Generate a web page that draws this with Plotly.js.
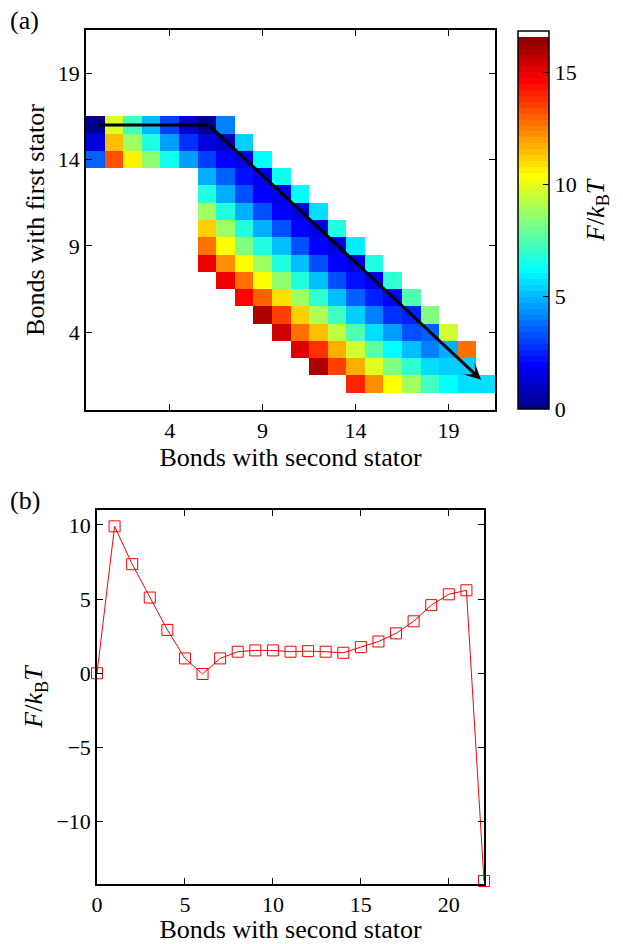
<!DOCTYPE html>
<html>
<head>
<meta charset="utf-8">
<script src="https://cdn.plot.ly/plotly-3.0.1.min.js"></script>
<style>html,body{margin:0;padding:0;background:#fff;}#chart{width:623px;height:944px;}</style>
</head>
<body>
<div id="chart"></div>
<script>
// ---------- DATA ----------
// (a) free energy map: for each row (bonds with first stator) the first column index and the cell values
const firstBondsRows = [16, 15, 14, 13, 12, 11, 10, 9, 8, 7, 6, 5, 4, 3, 2, 1];
const rowStartSecond = [0, 0, 0, 6, 6, 6, 6, 6, 6, 7, 8, 9, 10, 11, 12, 14];
const row16 = [0.05, 9.9, 7.3, 5.1, 2.95, 1.1, 0.05, 4.1];
const row15 = [1.45, 11.44, 8.81, 6.71, 4.6, 2.76, 1.45, 1.0, 5.39];
const row14 = [3.55, 13.28, 10.65, 8.55, 6.44, 4.6, 3.03, 1.97, 1.45, 6.18];
const row13 = [4.87, 3.55, 2.24, 1.6, 6.44];
const row12 = [6.71, 4.87, 3.29, 1.97, 1.6, 6.3];
const row11 = [8.81, 6.71, 4.87, 3.29, 1.97, 1.45, 5.65];
const row10 = [11.18, 8.81, 6.71, 4.87, 3.29, 1.97, 1.49, 6.71];
const row9  = [12.76, 10.39, 8.28, 6.71, 5.13, 3.4, 1.97, 1.45, 5.92];
const row8  = [14.86, 12.1, 10.5, 8.7, 6.71, 5.13, 3.4, 1.97, 1.38, 6.6];
const row7  = [14.86, 12.76, 10.39, 8.55, 6.71, 5.13, 3.29, 2.24, 1.76, 6.97];
const row6  = [14.6, 13.02, 10.91, 8.81, 6.97, 5.13, 3.55, 2.5, 2.05, 7.5];
const row5  = [15.91, 13.54, 11.18, 9.07, 7.23, 5.39, 4.08, 2.76, 2.6, 8.28];
const row4  = [15.39, 12.76, 11.44, 9.34, 7.5, 5.65, 4.6, 3.29, 3.5, 9.6];
const row3  = [15.12, 13.81, 11.7, 9.6, 7.76, 6.18, 5.13, 4.08, 4.8, 12.76];
const row2  = [15.91, 13.54, 11.7, 9.86, 8.28, 6.97, 5.65, 5.39, 5.5];
const row1  = [14.07, 12.23, 10.39, 8.81, 7.23, 6.18, 5.65, 5.6];
const rowValues = [row16, row15, row14, row13, row12, row11, row10, row9, row8, row7, row6, row5, row4, row3, row2, row1];

// path drawn on the map (arrow)
const pathSecond = [0.17, 6.1, 20.75];
const pathFirst  = [16, 16, 1.25];

// (b) free energy profile along the path
const secondBonds = [0,1,2,3,4,5,6,7,8,9,10,11,12,13,14,15,16,17,18,19,20,21,22];
const freeEnergy  = [0, 9.9, 7.35, 5.1, 2.92, 1.0, -0.05, 1.0, 1.45, 1.54, 1.54, 1.45, 1.49, 1.45, 1.38, 1.76, 2.14, 2.69, 3.5, 4.59, 5.32, 5.59, -14.0];

const mapTicks = [4, 9, 14, 19];
const cbTicks = [0, 5, 10, 15];
const profXTicks = [0, 5, 10, 15, 20];
const profYTicks = [-10, -5, 0, 5, 10];
const cMax = 16.83;

// ---------- BUILD ----------
const N = 22;
const axisIdx = Array.from({length: N}, (_, i) => i);
const z = axisIdx.map(() => axisIdx.map(() => null));
firstBondsRows.forEach((yv, r) => {
  rowValues[r].forEach((v, k) => { z[yv][rowStartSecond[r] + k] = v; });
});

// stepped jet(64) colormap, last entry white
function jet64() {
  const m = 16, u = [];
  for (let i = 1; i <= m; i++) u.push(i / m);
  for (let i = 1; i < m; i++) u.push(1);
  for (let i = m; i >= 1; i--) u.push(i / m);
  const R = new Array(64).fill(0), G = new Array(64).fill(0), B = new Array(64).fill(0);
  for (let j = 1; j <= u.length; j++) {
    const g = 8 + j, r = g + m, b = g - m;
    if (g >= 1 && g <= 64) G[g - 1] = u[j - 1];
    if (r >= 1 && r <= 64) R[r - 1] = u[j - 1];
    if (b >= 1 && b <= 64) B[b - 1] = u[j - 1];
  }
  const cols = [];
  for (let k = 0; k < 64; k++) {
    cols.push(k === 63 ? 'rgb(255,255,255)' :
      `rgb(${Math.round(R[k]*255)},${Math.round(G[k]*255)},${Math.round(B[k]*255)})`);
  }
  const cs = [];
  cols.forEach((c, k) => { cs.push([k / 64, c]); cs.push([(k + 1) / 64, c]); });
  return cs;
}

const FONT = 'Liberation Serif, Times New Roman, Times, serif';
const TICKSZ = 22, LABSZ = 26;

const heat = {
  type: 'heatmap', x: axisIdx, y: axisIdx, z: z,
  xaxis: 'x', yaxis: 'y',
  colorscale: jet64(), zmin: 0, zmax: cMax, zsmooth: false,
  hoverinfo: 'skip',
  colorbar: {
    x: 518/623, xanchor: 'left', xpad: 0,
    y: 1 - 31/944, yanchor: 'top', ypad: 0,
    len: 378/944, lenmode: 'fraction',
    thickness: 31, thicknessmode: 'pixels',
    outlinewidth: 1.5, outlinecolor: 'black',
    tickvals: cbTicks, ticks: 'inside', ticklen: 6, tickwidth: 1, tickcolor: 'black',
    tickfont: {family: FONT, size: TICKSZ, color: 'black'}
  }
};

const pathLine = {
  type: 'scatter', mode: 'lines', x: pathSecond.slice(0, 2), y: pathFirst.slice(0, 2),
  xaxis: 'x', yaxis: 'y', line: {color: 'black', width: 3}, hoverinfo: 'skip', showlegend: false
};

const profile = {
  type: 'scatter', mode: 'lines+markers', x: secondBonds, y: freeEnergy,
  xaxis: 'x2', yaxis: 'y2', cliponaxis: false,
  line: {color: 'red', width: 1},
  marker: {symbol: 'square-open', size: 11, color: 'red', line: {width: 1, color: 'red'}},
  hoverinfo: 'skip', showlegend: false
};

const baseAxis = {
  showline: true, linecolor: 'black', linewidth: 1.8, mirror: 'ticks',
  ticks: 'inside', ticklen: 6, tickwidth: 1, tickcolor: 'black',
  showgrid: false, zeroline: false,
  tickfont: {family: FONT, size: TICKSZ, color: 'black'}
};

const layout = {
  width: 623, height: 944,
  margin: {l: 0, r: 0, t: 0, b: 0},
  paper_bgcolor: 'white', plot_bgcolor: 'white',
  font: {family: FONT, color: 'black', size: TICKSZ},
  showlegend: false,
  xaxis: Object.assign({}, baseAxis, {
    domain: [86/623, 495/623], range: [-0.5, 21.5], tickvals: mapTicks, anchor: 'y',
    title: {text: 'Bonds with second stator', font: {family: FONT, size: LABSZ}, standoff: 2}
  }),
  yaxis: Object.assign({}, baseAxis, {
    domain: [1 - 410/944, 1 - 30/944], range: [-0.5, 21.5], tickvals: mapTicks, anchor: 'x',
    title: {text: 'Bonds with first stator', font: {family: FONT, size: LABSZ}, standoff: 6}
  }),
  xaxis2: Object.assign({}, baseAxis, {
    domain: [97/623, 484/623], range: [0, 22], tickvals: profXTicks, anchor: 'y2',
    title: {text: 'Bonds with second stator', font: {family: FONT, size: LABSZ}, standoff: 4}
  }),
  yaxis2: Object.assign({}, baseAxis, {
    domain: [1 - 884/944, 1 - 510/944], range: [-14.2, 11], tickvals: profYTicks, anchor: 'x2',
    title: {text: '<i>F</i>/<i>k</i><sub>B</sub><i>T</i>', font: {family: FONT, size: LABSZ}, standoff: 6}
  }),
  annotations: [
    {xref: 'x', yref: 'y', axref: 'x', ayref: 'y',
     x: pathSecond[2], y: pathFirst[2], ax: pathSecond[1], ay: pathFirst[1],
     text: '', showarrow: true, arrowhead: 3, arrowsize: 0.9, arrowwidth: 3, arrowcolor: 'black', standoff: 0},
    {xref: 'paper', yref: 'paper', x: 597/623, y: 1 - 210/944, xanchor: 'center', yanchor: 'middle',
     text: '<i>F</i>/<i>k</i><sub>B</sub><i>T</i>', textangle: -90, showarrow: false,
     font: {family: FONT, size: LABSZ, color: 'black'}},
    {xref: 'paper', yref: 'paper', x: 8/623, y: 1 - 4/944, xanchor: 'left', yanchor: 'top',
     text: '(a)', showarrow: false, font: {family: FONT, size: LABSZ, color: 'black'}},
    {xref: 'paper', yref: 'paper', x: 8/623, y: 1 - 484/944, xanchor: 'left', yanchor: 'top',
     text: '(b)', showarrow: false, font: {family: FONT, size: LABSZ, color: 'black'}}
  ]
};

Plotly.newPlot('chart', [heat, pathLine, profile], layout, {staticPlot: true, displayModeBar: false});
</script>
</body>
</html>
